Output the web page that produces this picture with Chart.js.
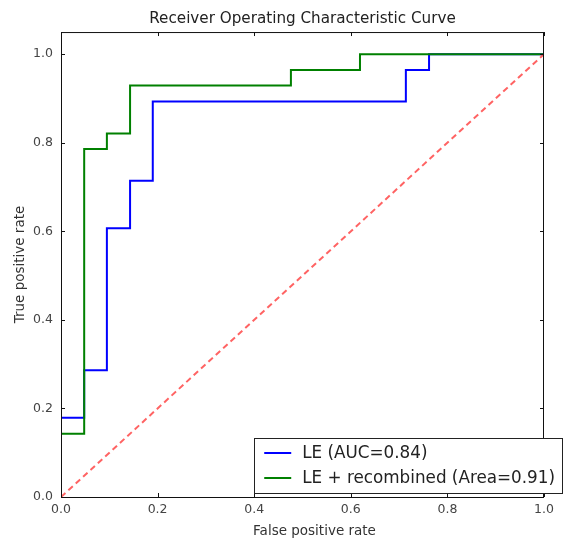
<!DOCTYPE html>
<html>
<head>
<meta charset="utf-8">
<script src="https://cdn.jsdelivr.net/npm/chart.js@4.4.0/dist/chart.umd.min.js"></script>
<style>
  html, body { margin: 0; padding: 0; background: #fff; }
</style>
</head>
<body>
<canvas id="roc" width="566" height="540"></canvas>
<script>
// ROC points (false positive rate / true positive rate)
const leFpr = [0, 0, 0.048, 0.048, 0.095, 0.095, 0.143, 0.143, 0.190, 0.190, 0.714, 0.714, 0.762, 0.762, 1.0];
const leTpr = [0, 0.179, 0.179, 0.286, 0.286, 0.607, 0.607, 0.714, 0.714, 0.893, 0.893, 0.964, 0.964, 1.0, 1.0];

const recFpr = [0, 0, 0.048, 0.048, 0.095, 0.095, 0.143, 0.143, 0.476, 0.476, 0.619, 0.619, 1.0];
const recTpr = [0, 0.143, 0.143, 0.786, 0.786, 0.821, 0.821, 0.929, 0.929, 0.964, 0.964, 1.0, 1.0];

const chanceX = [0, 1];
const chanceY = [0, 1];

const seriesLabels = ["LE (AUC=0.84)", "LE + recombined (Area=0.91)"];
const xTicks = [0, 0.2, 0.4, 0.6, 0.8, 1.0];
const yTicks = [0, 0.2, 0.4, 0.6, 0.8, 1.0];
const xLabel = "False positive rate";

const FONT = "'DejaVu Sans', sans-serif";

const toPoints = (xs, ys) => xs.map((x, i) => ({ x: x, y: ys[i] }));

// frame on all four sides, inward ticks, x label and the legend inside the plot
const framePlugin = {
  id: "frame",
  afterDatasetsDraw(chart) {
    const { ctx, chartArea: a, scales } = chart;
    ctx.save();
    ctx.strokeStyle = "#111";
    ctx.lineWidth = 1;
    ctx.strokeRect(a.left + 0.5, a.top + 0.5, a.right - a.left - 1, a.bottom - a.top);

    const len = 4;
    ctx.beginPath();
    xTicks.forEach((v) => {
      const px = Math.round(scales.x.getPixelForValue(v)) + 0.5;
      ctx.moveTo(px, a.bottom);
      ctx.lineTo(px, a.bottom - len);
      ctx.moveTo(px, a.top);
      ctx.lineTo(px, a.top + len);
    });
    yTicks.forEach((v) => {
      const py = Math.round(scales.y.getPixelForValue(v)) + 0.5;
      ctx.moveTo(a.left, py);
      ctx.lineTo(a.left + len, py);
      ctx.moveTo(a.right, py);
      ctx.lineTo(a.right - len, py);
    });
    ctx.stroke();

    // x axis label (sits a little right of centre in the original)
    ctx.font = "13.5px " + FONT;
    ctx.fillStyle = "#333";
    ctx.textAlign = "center";
    ctx.textBaseline = "middle";
    ctx.fillText(xLabel, (a.left + a.right) / 2 + 12, a.bottom + 34);

    // legend
    const items = chart.data.datasets.filter((d) => d.label);
    ctx.font = "16.8px " + FONT;
    const textW = Math.max(...items.map((d) => ctx.measureText(d.label).width));
    const boxRight = a.right + 18;
    const boxBottom = a.bottom - 4;
    const boxW = 48 + textW + 7;
    const boxH = 55;
    const boxLeft = boxRight - boxW;
    const boxTop = boxBottom - boxH;
    ctx.fillStyle = "#fff";
    ctx.fillRect(boxLeft, boxTop, boxW, boxH);
    ctx.strokeStyle = "#222";
    ctx.strokeRect(Math.round(boxLeft) + 0.5, Math.round(boxTop) + 0.5, Math.round(boxW), Math.round(boxH));
    ctx.textAlign = "left";
    items.forEach((d, i) => {
      const cy = boxTop + 15 + i * 25;
      ctx.strokeStyle = d.borderColor;
      ctx.lineWidth = 2;
      ctx.beginPath();
      ctx.moveTo(boxLeft + 10, cy);
      ctx.lineTo(boxLeft + 37, cy);
      ctx.stroke();
      ctx.fillStyle = "#222";
      ctx.fillText(d.label, boxLeft + 48, cy + 1);
    });
    ctx.restore();
  },
};

new Chart(document.getElementById("roc"), {
  type: "scatter",
  data: {
    datasets: [
      {
        label: seriesLabels[0],
        data: toPoints(leFpr, leTpr),
        showLine: true,
        borderColor: "#0000ff",
        borderWidth: 2,
        pointRadius: 0,
        tension: 0,
        order: 3,
      },
      {
        label: seriesLabels[1],
        data: toPoints(recFpr, recTpr),
        showLine: true,
        borderColor: "#008000",
        borderWidth: 2,
        pointRadius: 0,
        tension: 0,
        order: 2,
      },
      {
        label: "",
        data: toPoints(chanceX, chanceY),
        showLine: true,
        borderColor: "rgba(255, 60, 60, 0.8)",
        borderWidth: 2,
        borderDash: [6, 4],
        pointRadius: 0,
        order: 1,
      },
    ],
  },
  options: {
    responsive: false,
    animation: false,
    layout: { padding: { left: 0, right: 22, top: 0, bottom: 0 } },
    plugins: {
      legend: { display: false },
      tooltip: { enabled: false },
      title: {
        display: true,
        fullSize: false,
        text: "Receiver Operating Characteristic Curve",
        color: "#222",
        font: { family: FONT, size: 15.2, weight: "normal", lineHeight: 1.2 },
        padding: { top: 10, bottom: 3.8 },
      },
    },
    scales: {
      x: {
        type: "linear",
        min: 0,
        max: 1,
        afterFit(scale) { scale.height = 43; },
        afterBuildTicks(scale) { scale.ticks = xTicks.map((v) => ({ value: v })); },
        grid: { display: false, drawTicks: false },
        border: { display: false },
        ticks: {
          color: "#444",
          padding: 5,
          font: { family: FONT, size: 12.5 },
          callback: (v) => Number(v).toFixed(1),
        },
        title: { display: false },
      },
      y: {
        type: "linear",
        min: 0,
        max: 1.05,
        afterFit(scale) { scale.width = 61; },
        afterBuildTicks(scale) { scale.ticks = yTicks.map((v) => ({ value: v })); },
        grid: { display: false, drawTicks: false },
        border: { display: false },
        ticks: {
          color: "#444",
          padding: 8,
          font: { family: FONT, size: 12.5 },
          callback: (v) => Number(v).toFixed(1),
        },
        title: {
          display: true,
          text: "True positive rate",
          color: "#333",
          font: { family: FONT, size: 13.5 },
          padding: { top: 12, bottom: 0 },
        },
      },
    },
  },
  plugins: [framePlugin],
});
</script>
</body>
</html>
